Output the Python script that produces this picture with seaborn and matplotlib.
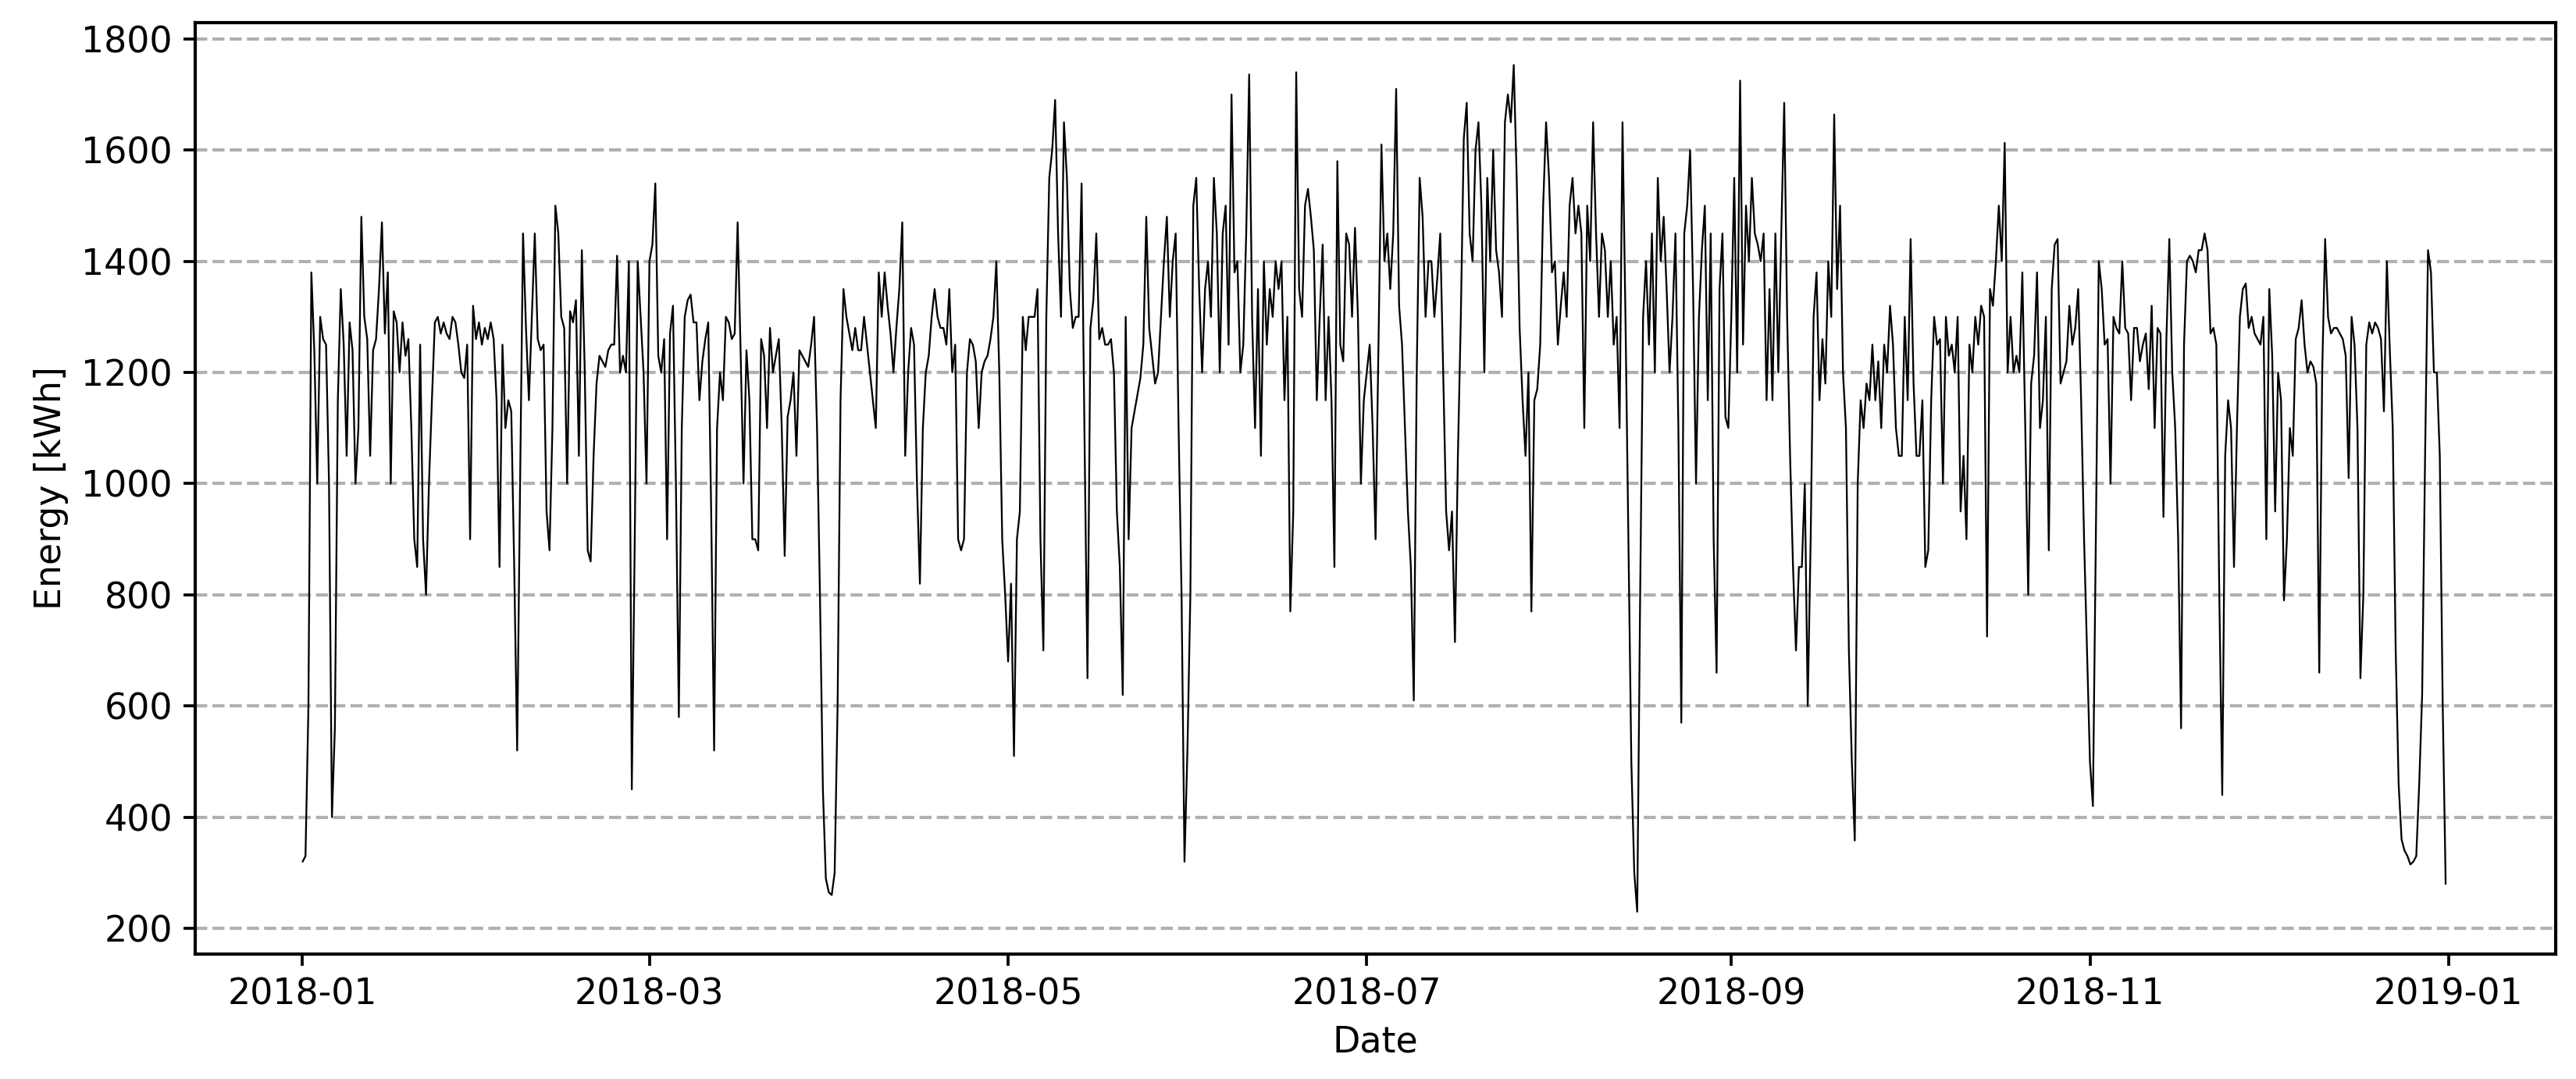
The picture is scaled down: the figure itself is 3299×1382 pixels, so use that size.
import numpy as np
import pandas as pd
import matplotlib
matplotlib.use("Agg")
import matplotlib.pyplot as plt
import matplotlib.dates as mdates
from matplotlib.ticker import MultipleLocator
import seaborn as sns

# Energy readings, two per day (00:00 and 12:00)
jan = [320, 330, 600, 1380, 1240, 1000, 1300, 1260, 1250, 1000, 400, 560, 1150, 1350,
       1250, 1050, 1290, 1240, 1000, 1100, 1480, 1300, 1260, 1050, 1240, 1260, 1350, 1470,
       1270, 1380, 1000, 1310, 1290, 1200, 1290, 1230, 1260, 1100, 900, 850, 1250, 900,
       800, 1000, 1150, 1290, 1300, 1270, 1290, 1270, 1260, 1300, 1290, 1250, 1200, 1190,
       1250, 900, 1320, 1260, 1290, 1250]
feb = [1280, 1260, 1290, 1260, 1150, 850, 1250, 1100, 1150, 1130, 850, 520, 1000, 1450,
       1280, 1150, 1300, 1450, 1260, 1240, 1250, 950, 880, 1100, 1500, 1450, 1300, 1280,
       1000, 1310, 1290, 1330, 1050, 1420, 1200, 880, 860, 1050, 1180, 1230, 1220, 1210,
       1240, 1250, 1250, 1410, 1200, 1230, 1200, 1400, 450, 900, 1400, 1300, 1200, 1000]
mar = [1400, 1430, 1540, 1230, 1200, 1260, 900, 1270, 1320, 1000, 580, 1100, 1300, 1330,
       1340, 1290, 1290, 1150, 1220, 1260, 1290, 950, 520, 1100, 1200, 1150, 1300, 1290,
       1260, 1270, 1470, 1240, 1000, 1240, 1150, 900, 900, 880, 1260, 1230, 1100, 1280,
       1200, 1230, 1260, 1100, 870, 1120, 1150, 1200, 1050, 1240, 1230, 1220, 1210, 1250,
       1300, 1100, 800, 450, 290, 265]
apr = [260, 300, 600, 1150, 1350, 1300, 1270, 1240, 1280, 1240, 1240, 1300, 1250, 1200,
       1150, 1100, 1380, 1300, 1380, 1320, 1270, 1200, 1280, 1350, 1470, 1050, 1200, 1280,
       1250, 1000, 820, 1100, 1200, 1230, 1300, 1350, 1300, 1280, 1280, 1250, 1350, 1200,
       1250, 900, 880, 900, 1200, 1260, 1250, 1220, 1100, 1200, 1220, 1230, 1260, 1300,
       1400, 1200, 900, 800]
may = [680, 820, 510, 900, 950, 1300, 1240, 1300, 1300, 1300, 1350, 900, 700, 1300,
       1550, 1600, 1690, 1450, 1300, 1650, 1550, 1350, 1280, 1300, 1300, 1540, 1080, 650,
       1280, 1330, 1450, 1260, 1280, 1250, 1250, 1260, 1200, 950, 850, 620, 1300, 900,
       1100, 1130, 1160, 1190, 1250, 1480, 1280, 1230, 1180, 1200, 1300, 1400, 1480, 1300,
       1400, 1450, 1100, 800, 320, 520]
jun = [800, 1500, 1550, 1350, 1200, 1350, 1400, 1300, 1550, 1450, 1200, 1450, 1500, 1250,
       1700, 1380, 1400, 1200, 1250, 1450, 1736, 1300, 1100, 1350, 1050, 1400, 1250, 1350,
       1300, 1400, 1350, 1400, 1150, 1300, 770, 950, 1740, 1350, 1300, 1500, 1530, 1480,
       1420, 1150, 1300, 1430, 1150, 1300, 1150, 850, 1580, 1250, 1220, 1450, 1430, 1300,
       1460, 1300, 1000, 1150]
jul = [1200, 1250, 1100, 900, 1250, 1610, 1400, 1450, 1350, 1450, 1710, 1320, 1250, 1100,
       950, 850, 610, 1200, 1550, 1480, 1300, 1400, 1400, 1300, 1370, 1450, 1200, 950,
       880, 950, 715, 1050, 1300, 1620, 1685, 1450, 1400, 1600, 1650, 1500, 1200, 1550,
       1400, 1600, 1420, 1380, 1300, 1650, 1700, 1650, 1753, 1550, 1280, 1150, 1050, 1200,
       770, 1150, 1170, 1250, 1500, 1650]
aug = [1550, 1380, 1400, 1250, 1320, 1380, 1300, 1500, 1550, 1450, 1500, 1450, 1100, 1500,
       1400, 1650, 1450, 1300, 1450, 1420, 1300, 1400, 1250, 1300, 1100, 1650, 1300, 900,
       500, 300, 230, 800, 1300, 1400, 1250, 1450, 1200, 1550, 1400, 1480, 1350, 1200,
       1300, 1450, 1100, 570, 1450, 1500, 1600, 1350, 1000, 1300, 1420, 1500, 1150, 1450,
       900, 660, 1350, 1450, 1120, 1100]
sep = [1300, 1550, 1200, 1725, 1250, 1500, 1400, 1550, 1450, 1430, 1400, 1450, 1150, 1350,
       1150, 1450, 1200, 1450, 1685, 1300, 1050, 850, 700, 850, 850, 1000, 600, 900,
       1300, 1380, 1150, 1260, 1180, 1400, 1300, 1664, 1350, 1500, 1200, 1100, 700, 500,
       358, 1000, 1150, 1100, 1180, 1150, 1250, 1150, 1220, 1100, 1250, 1200, 1320, 1250,
       1100, 1050, 1050, 1300]
oct_ = [1150, 1440, 1180, 1050, 1050, 1150, 850, 880, 1150, 1300, 1250, 1260, 1000, 1300,
        1230, 1250, 1200, 1300, 950, 1050, 900, 1250, 1200, 1300, 1250, 1320, 1300, 725,
        1350, 1320, 1400, 1500, 1400, 1613, 1200, 1300, 1200, 1230, 1200, 1380, 1100, 800,
        1180, 1230, 1380, 1100, 1150, 1300, 880, 1350, 1430, 1440, 1180, 1200, 1220, 1320,
        1250, 1280, 1350, 1150, 900, 700]
nov = [500, 420, 900, 1400, 1350, 1250, 1260, 1000, 1300, 1280, 1270, 1400, 1280, 1270,
       1150, 1280, 1280, 1220, 1250, 1270, 1170, 1320, 1100, 1280, 1270, 940, 1260, 1440,
       1200, 1100, 900, 560, 1250, 1400, 1410, 1400, 1380, 1420, 1420, 1450, 1420, 1270,
       1280, 1250, 800, 440, 1050, 1150, 1100, 850, 1100, 1300, 1350, 1360, 1280, 1300,
       1270, 1260, 1250, 1300]
dec = [900, 1350, 1230, 950, 1200, 1150, 790, 900, 1100, 1050, 1260, 1280, 1330, 1250,
       1200, 1220, 1210, 1180, 660, 1200, 1440, 1300, 1270, 1280, 1280, 1270, 1260, 1230,
       1010, 1300, 1250, 1100, 650, 800, 1250, 1290, 1270, 1290, 1280, 1260, 1130, 1400,
       1240, 1100, 700, 460, 360, 340, 330, 315, 320, 330, 460, 620, 1050, 1420,
       1380, 1200, 1200, 1050, 600, 280]

months = [jan, feb, mar, apr, may, jun, jul, aug, sep, oct_, nov, dec]
energy = np.concatenate([np.asarray(m, dtype=float) for m in months])
dates = pd.date_range("2018-01-01 00:00", periods=len(energy), freq="12h")
df = pd.DataFrame({"Date": dates, "Energy": energy})

sns.set_theme(style="ticks")
plt.rcParams.update({
    "font.family": ["DejaVu Sans"],
    "axes.edgecolor": "black",
    "axes.linewidth": 1.0,
    "text.color": "black",
    "axes.labelcolor": "black",
    "xtick.color": "black",
    "ytick.color": "black",
    "xtick.major.width": 0.9,
    "ytick.major.width": 0.9,
    "xtick.major.size": 3.5,
    "ytick.major.size": 3.5,
})

fig = plt.figure(figsize=(3299 / 300, 1382 / 300), dpi=300)
ax = fig.add_axes([0.0758, 0.1158, 0.9163, 0.8632])

sns.lineplot(data=df, x="Date", y="Energy", ax=ax, color="black", linewidth=0.55,
             estimator=None, errorbar=None)

span = df["Date"].iloc[-1] - df["Date"].iloc[0] + pd.Timedelta(hours=11)
pad = span * 0.05
ax.set_xlim(df["Date"].iloc[0] - pad, df["Date"].iloc[0] + span + pad)

ax.xaxis.set_major_locator(mdates.MonthLocator(bymonth=[1, 3, 5, 7, 9, 11]))
ax.xaxis.set_major_formatter(mdates.DateFormatter("%Y-%m"))
ax.yaxis.set_major_locator(MultipleLocator(200))

ax.yaxis.grid(True, linestyle="--", color="#b0b0b0", linewidth=1.0)
ax.xaxis.grid(False)
ax.set_axisbelow(True)

ax.tick_params(axis="both", labelsize=11)
ax.set_xlabel("Date", fontsize=11)
ax.set_ylabel("Energy [kWh]", fontsize=11)

fig.savefig("out.png", dpi=300)
